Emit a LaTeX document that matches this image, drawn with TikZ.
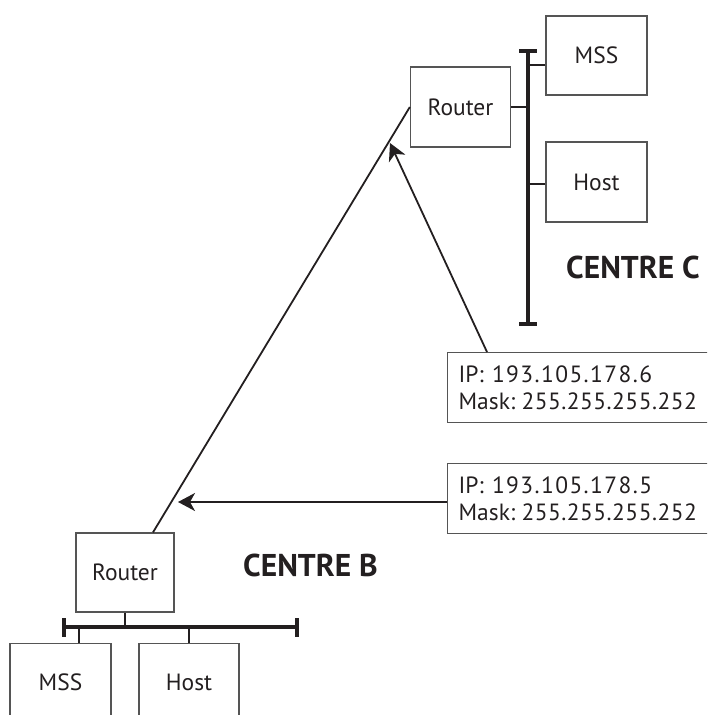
\documentclass[tikz,border=0pt]{standalone}
\usepackage{fontspec}
\setmainfont{PT Sans}
\usetikzlibrary{arrows.meta,calc}
\definecolor{ink}{HTML}{231F20}
\definecolor{edge}{HTML}{555555}
\newcommand{\ipline}[1]{IP:\hspace{0.35em}{\addfontfeature{LetterSpace=6}#1}}
\newcommand{\maskline}[1]{Mask:\hspace{0.27em}{\addfontfeature{LetterSpace=2}#1}}
\begin{document}
\begin{tikzpicture}[x=1pt,y=-1pt,
  device/.style={draw=edge,line width=1.3pt,rectangle,minimum width=#1,
    inner sep=0pt,text=ink,font=\fontsize{23.5}{27}\selectfont},
  device/.default=100pt,
  ipbox/.style={draw=edge,line width=1.3pt,rectangle,anchor=north west,
    minimum width=300pt,minimum height=70pt,inner xsep=11pt,align=left,
    text width=278pt,text=ink,font=\fontsize{23.5}{27}\selectfont},
  centre/.style={text=ink,font=\fontsize{31.5}{34}\selectfont\bfseries,anchor=base west,inner sep=0pt},
  link/.style={draw=ink,line width=1.8pt},
  bus/.style={draw=ink,line width=3.6pt},
  pointer/.style={draw=ink,line width=1.8pt,-{Stealth[length=17pt,width=18pt,inset=5pt]}}]
\useasboundingbox (0,0) rectangle (707,715);
\begin{scope}
\clip (0,0) rectangle (707,715);

% Centre C
\node[device,minimum height=80pt] (rC) at (460.5,107) {Router};
\node[device=101pt,minimum height=79pt] (mssC) at (596.5,55.5) {MSS};
\node[device=101pt,minimum height=80pt] (hostC) at (596.5,182) {Host};
\coordinate (busCtop) at (528,51);
\coordinate (busCbot) at (528,324);
\draw[bus] (busCtop) -- (busCbot);
\draw[bus] ($(busCtop)+(-9,0)$) -- ($(busCtop)+(9,0)$);
\draw[bus] ($(busCbot)+(-9,0)$) -- ($(busCbot)+(9,0)$);
\draw[link,line width=1.6pt] (rC.east) -- (rC.east -| busCtop);
\draw[link,line width=1.6pt] (mssC.west |- 0,65) -- (busCtop |- 0,65);
\draw[link,line width=1.6pt] (hostC.west |- 0,184) -- (busCtop |- 0,184);
\node[centre] (labC) at (566,278) {CENTRE C};

% Centre B
\node[device=98pt,minimum height=79pt] (rB) at (125,572.5) {Router};
\node[device=101pt,minimum height=100pt,anchor=north] (mssB) at (60.5,643) {};
\node[device=100pt,minimum height=100pt,anchor=north] (hostB) at (189,643) {};
\node[text=ink,font=\fontsize{23.5}{27}\selectfont] (mssBt) at (60.5,682) {MSS};
\node[text=ink,font=\fontsize{23.5}{27}\selectfont] (hostBt) at (189,682) {Host};
\coordinate (busBl) at (64,627);
\coordinate (busBr) at (297,627);
\draw[bus] (busBl) -- (busBr);
\draw[bus] ($(busBl)+(0,-9)$) -- ($(busBl)+(0,10)$);
\draw[bus] ($(busBr)+(0,-9)$) -- ($(busBr)+(0,10)$);
\draw[link,line width=1.6pt] (rB.south) -- (rB.south |- busBl);
\draw[link,line width=1.6pt] (mssB.north -| 79,0) -- (busBl -| 79,0);
\draw[link,line width=1.6pt] (hostB.north) -- (hostB.north |- busBl);
\node[centre] (labB) at (243,576) {CENTRE B};

% Link between the two routers
\draw[link] ($(rB.north)+(28,0)$) -- (rC.west);

% Interface address boxes
\node[ipbox] (ip6) at (447,352) {\ipline{193.105.178.6}\\\maskline{255.255.255.252}};
\node[ipbox] (ip5) at (447,463) {\ipline{193.105.178.5}\\\maskline{255.255.255.252}};
\coordinate (tip6) at (390,143);
\coordinate (tip5) at (178,502);
\draw[pointer] ($(ip6.north west)+(40,0)$) -- (tip6);
\draw[pointer] (ip5.west |- tip5) -- (tip5);
\end{scope}
\end{tikzpicture}
\end{document}
